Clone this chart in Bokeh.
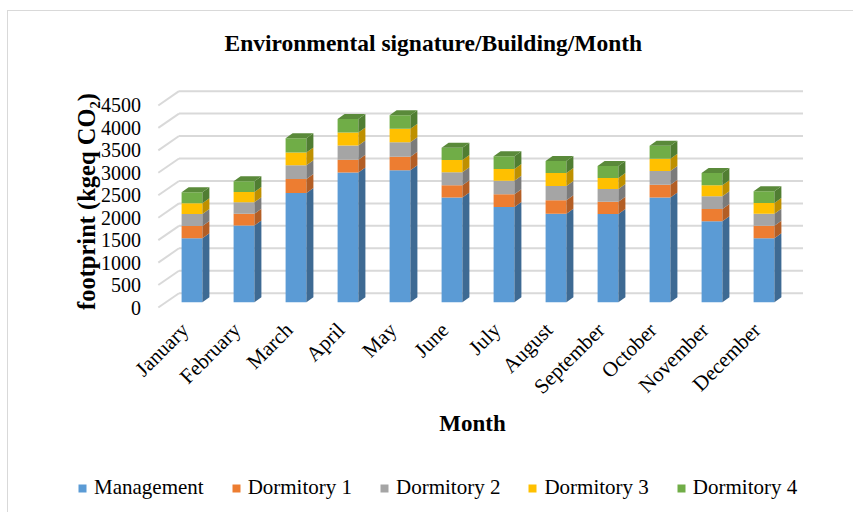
import numpy as np
from bokeh.plotting import figure
from bokeh.models import Range1d, Legend, LegendItem, Label, ColumnDataSource
from bokeh.core.properties import value
from bokeh.embed import file_html
from bokeh.resources import INLINE

# ---------------- data ----------------
months = ["January", "February", "March", "April", "May", "June", "July",
          "August", "September", "October", "November", "December"]
series_names = ["Management", "Dormitory 1", "Dormitory 2", "Dormitory 3", "Dormitory 4"]
management = [1425, 1710, 2430, 2890, 2940, 2330, 2120, 1970, 1965, 2330, 1805, 1425]
dormitory1 = [270, 260, 315, 285, 300, 275, 285, 300, 270, 285, 270, 275]
dormitory2 = [270, 255, 305, 315, 320, 290, 300, 320, 285, 305, 285, 270]
dormitory3 = [240, 230, 285, 290, 305, 270, 260, 285, 245, 275, 245, 240]
dormitory4 = [245, 240, 315, 300, 300, 275, 285, 270, 270, 290, 270, 260]
y_ticks = [0, 500, 1000, 1500, 2000, 2500, 3000, 3500, 4000, 4500]

# ---------------- styles ----------------
front_colors = ["#5B9BD5", "#ED7D31", "#A5A5A5", "#FFC000", "#70AD47"]
side_colors = ["#3E6A93", "#B35E25", "#7B7B7B", "#BE9000", "#507E32"]
top_color = "#5A8A3A"
FONT = "Liberation Serif"

# ---------------- geometry (page pixels) ----------------
PX_PER_UNIT = 22.45 / 500.0
PX_PER_CAT = 52.0
CAT0_PX = 191.5
ZERO_PX = 301.7
ORIGIN_X, ORIGIN_Y = 8, 11          # canvas origin on the page
W, H = 846, 502
FR_L, FR_R, FR_T, FR_B = ORIGIN_X, ORIGIN_X + W, 60, ORIGIN_Y + H


def ux(px):
    return px / PX_PER_CAT


def uy(px):
    return px / PX_PER_UNIT


x_start = (FR_L - CAT0_PX) / PX_PER_CAT
x_end = (FR_R - CAT0_PX) / PX_PER_CAT
y_start = (ZERO_PX - FR_B) / PX_PER_UNIT
y_end = (ZERO_PX - FR_T) / PX_PER_UNIT

BAR_W = 0.4
BAR_DX, BAR_DY = ux(7), uy(5)
WALL_DX, WALL_DY = ux(13), uy(9)
FRONT_DX, FRONT_DY = ux(-7.7), uy(-5.3)
FLOOR_L, FLOOR_R = -0.5, len(months) - 0.5

p = figure(width=W, height=H, x_range=Range1d(x_start, x_end), y_range=Range1d(y_start, y_end),
           output_backend="svg", toolbar_location=None,
           x_axis_location=None, y_axis_location=None,
           min_border_left=0, min_border_right=0,
           min_border_top=FR_T - ORIGIN_Y, min_border_bottom=0)
p.margin = (10, 0, 0, 7)
p.styles = {"border-top": "1px solid #d9d9d9", "border-left": "1px solid #d9d9d9"}
p.xgrid.visible = False
p.ygrid.visible = False
p.outline_line_color = None
p.background_fill_color = "white"
p.border_fill_color = "white"

# back-wall gridlines and floor-side diagonals
wall_xs = [[FLOOR_L + WALL_DX, FLOOR_R + WALL_DX] for v in y_ticks]
wall_ys = [[v + WALL_DY, v + WALL_DY] for v in y_ticks]
diag_xs = [[FLOOR_L + FRONT_DX, FLOOR_L + WALL_DX] for v in y_ticks]
diag_ys = [[v + FRONT_DY, v + WALL_DY] for v in y_ticks]
p.multi_line(wall_xs + diag_xs, wall_ys + diag_ys, line_color="#d9d9d9", line_width=2)

# value-axis tick labels, on the front edge of the floor
ytick_src = ColumnDataSource(dict(x=[FLOOR_L + FRONT_DX - ux(17.3)] * len(y_ticks),
                                  y=[v + FRONT_DY for v in y_ticks],
                                  text=[str(v) for v in y_ticks]))
p.text(x="x", y="y", text="text", source=ytick_src, text_align="right", text_baseline="middle",
       text_font=value(FONT), text_font_size="20px", text_color="black")

# category labels, rotated under each column
idx = np.arange(len(months))
xtick_src = ColumnDataSource(dict(x=idx - ux(7), y=[-uy(24.3)] * len(months), text=months))
p.text(x="x", y="y", text="text", source=xtick_src, angle=np.pi / 4,
       text_align="right", text_baseline="middle",
       text_font=value(FONT), text_font_size="21px", text_color="black")

# stacked 3-D columns
series = [management, dormitory1, dormitory2, dormitory3, dormitory4]
bottom = np.zeros(len(months))
renderers = []
for k, vals in enumerate(series):
    vals = np.array(vals, dtype=float)
    top = bottom + vals
    r = p.vbar(x=idx, width=BAR_W, bottom=bottom, top=top,
               fill_color=front_colors[k], line_color=None)
    renderers.append(r)
    xr = idx + BAR_W / 2
    side_xs = [[x, x + BAR_DX, x + BAR_DX, x] for x in xr]
    side_ys = [[b, b + BAR_DY, t + BAR_DY, t] for b, t in zip(bottom, top)]
    p.patches(side_xs, side_ys, fill_color=side_colors[k], line_color=None)
    if k == len(series) - 1:
        top_xs = [[x - BAR_W / 2, x + BAR_W / 2, x + BAR_W / 2 + BAR_DX, x - BAR_W / 2 + BAR_DX] for x in idx]
        top_ys = [[t, t, t + BAR_DY, t + BAR_DY] for t in top]
        p.patches(top_xs, top_ys, fill_color=top_color, line_color=None)
    bottom = top

# axis titles
ylabel = Label(x=86 - FR_L, y=FR_B - 201, x_units="screen", y_units="screen",
               text="footprint (kgeq CO\u2082)", angle=np.pi / 2,
               text_align="center", text_baseline="middle",
               text_font=FONT, text_font_size="24.5px", text_font_style="bold",
               text_color="black")
p.add_layout(ylabel)

xlabel = Label(x=472 - FR_L, y=FR_B - 423, x_units="screen", y_units="screen",
               text="Month", text_align="center", text_baseline="middle",
               text_font=FONT, text_font_size="23px", text_font_style="bold",
               text_color="black")
p.add_layout(xlabel)

# title
p.title.text = "Environmental signature/Building/Month"
p.title.align = "left"
p.title.offset = 216
p.title.standoff = 10
p.title.text_font = FONT
p.title.text_font_size = "23.5px"
p.title.text_font_style = "bold"
p.title.text_color = "black"

# legend
items = [LegendItem(label=n, renderers=[r]) for n, r in zip(series_names, renderers)]
legend = Legend(items=items, orientation="horizontal",
                location=(77 - FR_L, FR_B - 500),
                glyph_width=10, glyph_height=10, label_standoff=7, spacing=27,
                padding=0, margin=0, border_line_color=None, background_fill_alpha=0,
                label_text_font=FONT, label_text_font_size="21px", label_text_color="black")
p.add_layout(legend)

open("out.html", "w").write(file_html(p, INLINE))
